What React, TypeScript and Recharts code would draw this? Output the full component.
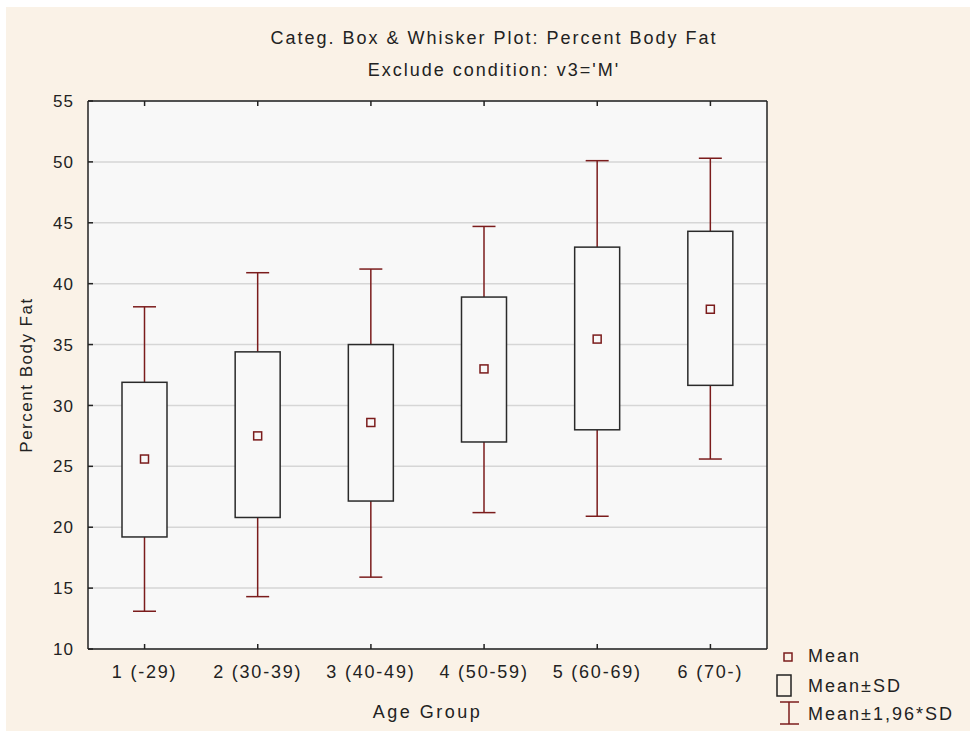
import { ComposedChart, Bar, XAxis, YAxis, CartesianGrid, Label } from "recharts"

const groups = ["1 (-29)", "2 (30-39)", "3 (40-49)", "4 (50-59)", "5 (60-69)", "6 (70-)"]
const means = [25.6, 27.5, 28.6, 33.0, 35.45, 37.9]
const sdLow = [19.2, 20.8, 22.15, 27.0, 28.0, 31.65]
const sdHigh = [31.9, 34.4, 35.0, 38.9, 43.0, 44.3]
const ciLow = [13.1, 14.3, 15.9, 21.2, 20.9, 25.6]
const ciHigh = [38.1, 40.9, 41.2, 44.7, 50.1, 50.3]
const yTicks = [10, 15, 20, 25, 30, 35, 40, 45, 50, 55]

const data = groups.map((g, i) => ({
  group: g,
  range: [ciLow[i], ciHigh[i]],
  mean: means[i],
  sdLow: sdLow[i],
  sdHigh: sdHigh[i],
  ciLow: ciLow[i],
  ciHigh: ciHigh[i],
}))

const FONT = "'Liberation Sans', Arial, sans-serif"
const BG = "#faf2e7"
const PLOT_BG = "#f8f8f8"
const RED = "#7b1c1c"
const INK = "#222"

// box drawn inside the whisker range bar, positions interpolated from the bar's own extent
function BoxWhisker(props: any) {
  const { x, y, width, height, payload } = props
  const top = Math.min(y, y + height)
  const h = Math.abs(height)
  const lo = payload.ciLow
  const hi = payload.ciHigh
  const py = (v: number) => top + ((hi - v) / (hi - lo)) * h
  const cx = x + width / 2
  const cap = 11.5
  return (
    <g>
      <line x1={cx} x2={cx} y1={py(hi)} y2={py(payload.sdHigh)} stroke={RED} strokeWidth={1.5} />
      <line x1={cx} x2={cx} y1={py(payload.sdLow)} y2={py(lo)} stroke={RED} strokeWidth={1.5} />
      <line x1={cx - cap} x2={cx + cap} y1={py(hi)} y2={py(hi)} stroke={RED} strokeWidth={1.5} />
      <line x1={cx - cap} x2={cx + cap} y1={py(lo)} y2={py(lo)} stroke={RED} strokeWidth={1.5} />
      <rect
        x={x}
        y={py(payload.sdHigh)}
        width={width}
        height={py(payload.sdLow) - py(payload.sdHigh)}
        fill={PLOT_BG}
        stroke="#2a2a2a"
        strokeWidth={1.5}
      />
      <rect x={cx - 4} y={py(payload.mean) - 4} width={8} height={8} fill="none" stroke={RED} strokeWidth={1.5} />
    </g>
  )
}

function LeftTick(props: any) {
  const { x, y, payload } = props
  return (
    <g>
      <line x1={x + 14} x2={x + 19} y1={y} y2={y} stroke={INK} strokeWidth={1.5} />
      <text x={x} y={y} dy="0.36em" textAnchor="end" fontSize={17} fill={INK} fontFamily={FONT} letterSpacing={1}>
        {payload.value}
      </text>
    </g>
  )
}

function RightTick(props: any) {
  const { x, y } = props
  return <line x1={x} x2={x - 5} y1={y} y2={y} stroke={INK} strokeWidth={1.5} />
}

function BottomTick(props: any) {
  const { x, y, payload } = props
  return (
    <g>
      <line x1={x} x2={x} y1={y - 16} y2={y - 21} stroke={INK} strokeWidth={1.5} />
      <text x={x} y={y} dy="0.71em" textAnchor="middle" fontSize={18} fill={INK} fontFamily={FONT} letterSpacing={1.8}>
        {payload.value}
      </text>
    </g>
  )
}

function TopTick(props: any) {
  const { x, y } = props
  return <line x1={x} x2={x} y1={y} y2={y + 5} stroke={INK} strokeWidth={1.5} />
}

const textStyle = { fontFamily: FONT, fontSize: 18, fill: INK, letterSpacing: 2 }

export default function App() {
  return (
    <div style={{ position: "absolute", left: 6, top: 7, width: 964, height: 724, background: BG }}>
      <ComposedChart width={964} height={724} data={data} margin={{ top: 93, right: 202, bottom: 42, left: 0 }}>
        <CartesianGrid vertical={false} stroke="#d6d6d6" strokeWidth={1.5} fill={PLOT_BG} fillOpacity={1} />
        <XAxis
          dataKey="group"
          height={40}
          tickSize={0}
          tickMargin={16}
          tickLine={false}
          tick={<BottomTick />}
          axisLine={{ stroke: INK, strokeWidth: 1.5 }}
          interval={0}
        >
          <Label value="Age Group" position="bottom" offset={16} style={{ ...textStyle, letterSpacing: 2.5 }} />
        </XAxis>
        <XAxis
          xAxisId="t"
          dataKey="group"
          orientation="top"
          height={1}
          tickSize={0}
          tickMargin={0}
          tickLine={false}
          tick={<TopTick />}
          axisLine={{ stroke: INK, strokeWidth: 1.5 }}
          interval={0}
        />
        <YAxis
          width={82}
          domain={[10, 55]}
          ticks={yTicks}
          type="number"
          tickSize={0}
          tickMargin={14}
          tickLine={false}
          tick={<LeftTick />}
          axisLine={{ stroke: INK, strokeWidth: 1.5 }}
          interval={0}
        >
          <Label
            value="Percent Body Fat"
            angle={-90}
            position="insideLeft"
            offset={20}
            style={{ ...textStyle, fontSize: 17, letterSpacing: 1.5, textAnchor: "middle" }}
          />
        </YAxis>
        <YAxis
          yAxisId="r"
          orientation="right"
          width={1}
          domain={[10, 55]}
          ticks={yTicks}
          type="number"
          tickSize={0}
          tickMargin={0}
          tickLine={false}
          tick={<RightTick />}
          axisLine={{ stroke: INK, strokeWidth: 1.5 }}
          interval={0}
        />
        <Bar dataKey="range" barSize={45} shape={<BoxWhisker />} isAnimationActive={false} />
      </ComposedChart>
      <svg
        width={964}
        height={724}
        style={{ position: "absolute", left: 0, top: 0, pointerEvents: "none" }}
        fontFamily={FONT}
      >
        <text x={488} y={37} textAnchor="middle" fontSize={18} fill={INK} letterSpacing={2}>
          Categ. Box &amp; Whisker Plot: Percent Body Fat
        </text>
        <text x={488} y={69} textAnchor="middle" fontSize={18} fill={INK} letterSpacing={2}>
          Exclude condition: v3='M'
        </text>
        <rect x={778} y={646} width={8} height={8} fill="none" stroke={RED} strokeWidth={1.5} />
        <text x={802} y={655} fontSize={18} fill={INK} letterSpacing={2}>Mean</text>
        <rect x={771} y={668} width={14} height={21} fill="none" stroke={INK} strokeWidth={1.5} />
        <text x={802} y={685} fontSize={18} fill={INK} letterSpacing={2}>Mean±SD</text>
        <line x1={783} x2={783} y1={695} y2={717} stroke={RED} strokeWidth={1.5} />
        <line x1={774} x2={793} y1={695} y2={695} stroke={RED} strokeWidth={1.5} />
        <line x1={774} x2={793} y1={717} y2={717} stroke={RED} strokeWidth={1.5} />
        <text x={802} y={713} fontSize={18} fill={INK} letterSpacing={2}>Mean±1,96*SD</text>
      </svg>
    </div>
  )
}
